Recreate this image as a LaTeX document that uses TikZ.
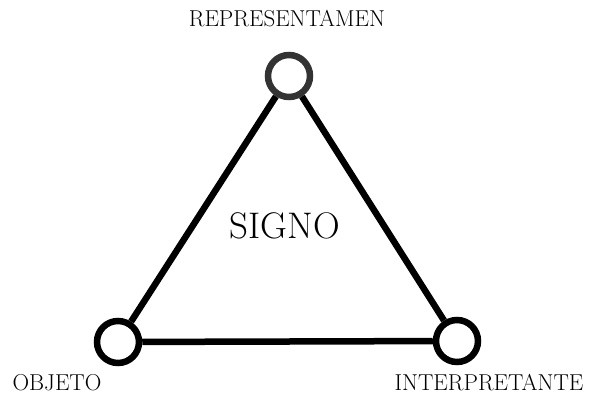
\documentclass[tikz,border=0pt]{standalone}
\begin{document}
\begin{tikzpicture}[x=1pt, y=-1pt,
        vertice/.style={circle, draw=black, line width=6.5pt, fill=white, minimum size=42pt, inner sep=0pt},
        lado/.style={line width=6.5pt, black},
        etiqueta/.style={font=\fontsize{23}{27}\selectfont}]
        \useasboundingbox (0, 0) rectangle (589, 394);

        % Vertices
        \node [vertice, draw=black!80] (repr) at (289, 76) {};
        \node [vertice] (obj) at (118, 342) {};
        \node [vertice] (interp) at (457, 341) {};

        % Lados
        \draw [lado] (repr) -- (obj);
        \draw [lado] (obj) -- (interp);
        \draw [lado] (interp) -- (repr);

        % Textos
        \node [etiqueta] (trepr) at (287, 19) {REPRESENTAMEN};
        \node [etiqueta] (tobj) at (57, 383) {OBJETO};
        \node [etiqueta] (tinterp) at (489, 383) {INTERPRETANTE};
        \node [font=\fontsize{37}{41}\selectfont] (signo) at (285, 226) {SIGNO};
    \end{tikzpicture}
\end{document}
